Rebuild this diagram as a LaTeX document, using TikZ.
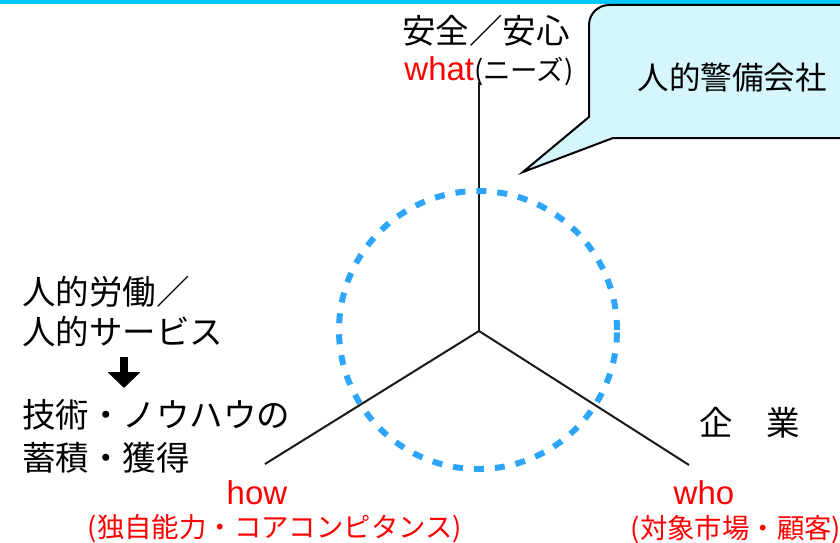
\documentclass[tikz,border=0pt]{standalone}
\usepackage{fontspec}
\setmainfont{Liberation Sans}
\newfontfamily\jp{Noto Sans CJK JP}
\usetikzlibrary{arrows.meta}
\definecolor{topband}{RGB}{0,200,255}
\definecolor{ringblue}{RGB}{45,165,250}
\definecolor{bubble}{RGB}{213,246,252}

\begin{document}
\begin{tikzpicture}[x=1pt, y=-1pt,
		jpbig/.style={font={\jp\fontsize{33.5}{40}\selectfont}, inner sep=0pt},
		redword/.style={font={\fontsize{33}{40}\selectfont}, text=red, inner sep=0pt},
		redsub/.style={font={\jp\fontsize{27.4}{32}\selectfont}, text=red, inner sep=0pt},
		axis/.style={line width=2pt, color=black!90}]
			%%%%% START %%%%%
			
			\useasboundingbox (0, 0) rectangle (840, 543);
			\clip (0, 0) rectangle (840, 543);
			\fill[topband] (0, 0) rectangle (840, 4.5);
			
			% speech bubble
			\draw[line width=2pt, fill=bubble] (589, 60) [rounded corners=20pt] -- (589, 5) -- (870, 5) [sharp corners] -- (870, 138) -- (613, 138) -- (523, 172) -- (589, 117) -- cycle;
			\node[jpbig, font={\jp\fontsize{31.5}{38}\selectfont}] (guard) at (732, 78) {人的警備会社};
			
			% three axes
			\coordinate (hub) at (479, 331);
			\coordinate (whatend) at (479, 82);
			\coordinate (howend) at (265, 464);
			\coordinate (whoend) at (689, 465);
			\draw[axis] (hub) -- (whatend);
			\draw[axis] (hub) -- (howend);
			\draw[axis] (hub) -- (whoend);
			
			\draw[ringblue, line width=6pt, dash pattern=on 10pt off 11pt] (478, 330) circle [radius=139pt];
			
			% labels on the axes
			\node[jpbig] (safe) at (486, 31) {安全／安心};
			\node[anchor=base, inner sep=0pt] (what) at (489, 80) {\textcolor{red}{\fontsize{33}{40}\selectfont what}{\jp\fontsize{27.4}{32}\selectfont (ニーズ)}};
			\node[redword] (how) at (257, 493) {how};
			\node[redsub] (howsub) at (275, 529) {(独自能力・コアコンピタンス)};
			\node[redword] (who) at (704, 493) {who};
			\node[redsub] (whosub) at (736, 530) {(対象市場・顧客)};
			\node[jpbig] (firm) at (750, 423) {企　業};
			
			% left column
			\node[jpbig, anchor=west] (labour) at (22, 292) {人的労働／};
			\node[jpbig, anchor=west] (service) at (22, 332) {人的サービス};
			\coordinate (arrtop) at (124, 357);
			\coordinate (arrtip) at (124, 388);
			\draw[line width=8pt, -{Triangle[width=32pt, length=16pt]}] (arrtop) -- (arrtip);
			\node[jpbig, anchor=west] (skill) at (22, 415) {技術・ノウハウの};
			\node[jpbig, anchor=west] (gain) at (22, 458) {蓄積・獲得};
			
			%%%%% END %%%%%
		\end{tikzpicture}
\end{document}
